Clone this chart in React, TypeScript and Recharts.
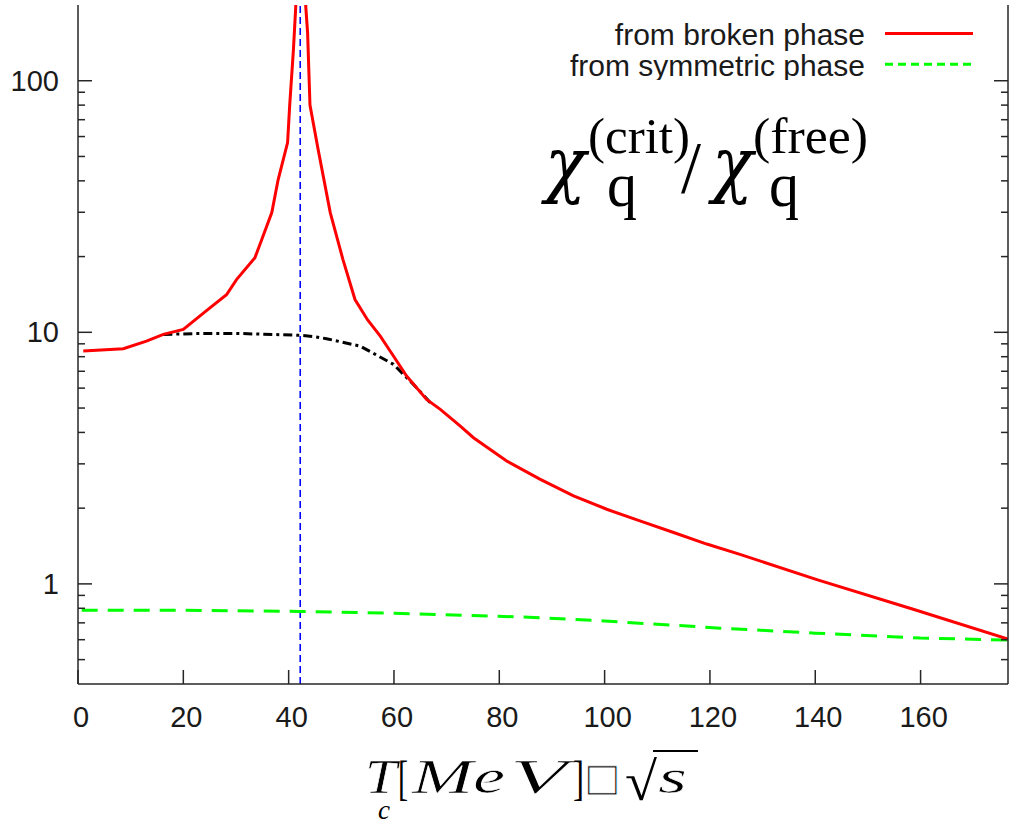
import React from 'react';
import { LineChart, Line, XAxis, YAxis, ReferenceLine, Legend } from 'recharts';

// Critical-to-free quark number susceptibility ratio vs. critical temperature
const brokenPhaseT = [
  1.0, 8.6, 13.0, 16.2, 20.0, 24.4, 28.2, 30.1, 33.6, 34.9, 36.8, 38.0, 39.8, 40.2, 40.9, 41.35,
  42.2,
  43.25, 43.6, 44.05, 45.6, 47.9, 50.3, 52.6, 55.0, 57.4, 59.9, 62.4, 66.2, 68.8, 72.6, 75.1, 81.4,
  87.7, 94.1, 100.4, 106.7, 113.1, 119.4, 125.7, 140.3, 158.6, 176.6,
];
const brokenPhaseRatio = [
  8.42, 8.61, 9.23, 9.81, 10.27, 12.2, 14.1, 16.2, 19.8, 23.4, 29.9, 40.4, 56.8, 80, 132, 197,
  5000,
  197, 155, 80, 53.3, 29.9, 19.5, 13.5, 11.2, 9.66, 8.05, 6.7, 5.41, 4.94, 4.24, 3.81, 3.08,
  2.61, 2.24, 1.98, 1.78, 1.6, 1.44, 1.31, 1.04, 0.793, 0.603,
];

const symmetricPhaseT = [0.7, 20, 42.2, 60, 86.6, 100, 122, 140, 160, 176.6];
const symmetricPhaseRatio = [0.786, 0.786, 0.777, 0.765, 0.736, 0.712, 0.667, 0.637, 0.609, 0.598];

const smoothedT = [16.2, 21.9, 30, 42.2, 45, 47.2, 53.6, 59.9, 63.7, 66.9];
const smoothedRatio = [9.81, 9.88, 9.9, 9.73, 9.6, 9.43, 8.81, 7.46, 6.21, 5.25];

const criticalT = 42.2;

const xTicks = [0, 20, 40, 60, 80, 100, 120, 140, 160];
const yTicks = [
  0.5, 0.6, 0.7, 0.8, 0.9, 1, 2, 3, 4, 5, 6, 7, 8, 9, 10, 20, 30, 40, 50, 60, 70, 80, 90, 100,
];
const yTickLabels = [1, 10, 100];

const X_DOMAIN: [number, number] = [0, 176.6];
const Y_DOMAIN: [number, number] = [0.4, 200];

const toPoints = (xs: number[], ys: number[]) => xs.map((x, i) => ({ x, y: ys[i] }));
const brokenData = toPoints(brokenPhaseT, brokenPhaseRatio);
const symmetricData = toPoints(symmetricPhaseT, symmetricPhaseRatio);
const smoothedData = toPoints(smoothedT, smoothedRatio);

const AXIS_COLOR = '#262626';
const TEXT_COLOR = '#1a1a1a';
const SANS = "'Liberation Sans', Arial, sans-serif";
const SERIF = "'Liberation Serif', 'Times New Roman', serif";
const GREEK = "'DejaVu Serif', serif";
const MAJOR = 14;
const MINOR = 7;

const legendItems = [
  { name: 'from broken phase', color: '#ff0000', dash: undefined as string | undefined },
  { name: 'from symmetric phase', color: '#00ff00', dash: '8 5' },
];

function BottomTick(props: any) {
  const { x, y, payload } = props;
  return (
    <g>
      <line x1={x} y1={y} x2={x} y2={y - MAJOR} stroke={AXIS_COLOR} strokeWidth={1.5} />
      <text x={x + 3} y={y + 43} textAnchor="middle" fontSize={29} fontFamily={SANS} fill={TEXT_COLOR}>
        {payload.value}
      </text>
    </g>
  );
}

function TopTick(props: any) {
  const { x, y } = props;
  return <line x1={x} y1={y} x2={x} y2={y + MAJOR} stroke={AXIS_COLOR} strokeWidth={1.5} />;
}

function LeftTick(props: any) {
  const { x, y, payload } = props;
  const major = yTickLabels.includes(payload.value);
  return (
    <g>
      <line x1={x} y1={y} x2={x + (major ? MAJOR : MINOR)} y2={y} stroke={AXIS_COLOR} strokeWidth={1.5} />
      {major && (
        <text x={x - 19} y={y + 10} textAnchor="end" fontSize={29} fontFamily={SANS} fill={TEXT_COLOR}>
          {payload.value}
        </text>
      )}
    </g>
  );
}

function RightTick(props: any) {
  const { x, y, payload } = props;
  const major = yTickLabels.includes(payload.value);
  return <line x1={x} y1={y} x2={x - (major ? MAJOR : MINOR)} y2={y} stroke={AXIS_COLOR} strokeWidth={1.5} />;
}

function LegendBox() {
  return (
    <svg width={450} height={80}>
      {legendItems.map((item, i) => (
        <g key={item.name}>
          <text x={325} y={45 + i * 30.5} textAnchor="end" fontSize={30} fontFamily={SANS} fill={TEXT_COLOR}>
            {item.name}
          </text>
          <line
            x1={345}
            x2={433}
            y1={33.5 + i * 30.8}
            y2={33.5 + i * 30.8}
            stroke={item.color}
            strokeWidth={3}
            strokeDasharray={item.dash}
          />
        </g>
      ))}
    </svg>
  );
}

// Stretched serif glyphs get a faint white outline so their stems stay light
const thin = { stroke: '#fff', strokeWidth: 0.6 };

function Annotations() {
  return (
    <svg
      width={1009}
      height={821}
      style={{ position: 'absolute', left: 0, top: 0, pointerEvents: 'none' }}
    >
      <g fontFamily={SERIF} fill="#000">
        <text x={545} y={189} fontSize={72} fontFamily={GREEK} fontStyle="italic" textLength={41} lengthAdjust="spacingAndGlyphs">χ</text>
        <text x={588} y={153} fontSize={51} textLength={102} lengthAdjust="spacingAndGlyphs">(crit)</text>
        <text x={607} y={206} fontSize={64} textLength={30} lengthAdjust="spacingAndGlyphs">q</text>
        <text x={681} y={193} fontSize={74} textLength={20} lengthAdjust="spacingAndGlyphs">/</text>
        <text x={712} y={189} fontSize={72} fontFamily={GREEK} fontStyle="italic" textLength={41} lengthAdjust="spacingAndGlyphs">χ</text>
        <text x={753} y={153} fontSize={51} textLength={115} lengthAdjust="spacingAndGlyphs">(free)</text>
        <text x={769} y={206} fontSize={64} textLength={30} lengthAdjust="spacingAndGlyphs">q</text>
      </g>
      <g fontFamily={SERIF} fill="#000" fontStyle="italic">
        <text x={365} y={793} fontSize={48} textLength={32} lengthAdjust="spacingAndGlyphs" {...thin}>T</text>
        <text x={378} y={819} fontSize={28} textLength={12} lengthAdjust="spacingAndGlyphs">c</text>
        <text x={398} y={794} fontSize={48} fontStyle="normal" textLength={10} lengthAdjust="spacingAndGlyphs">[</text>
        <text x={412} y={793} fontSize={48} textLength={61} lengthAdjust="spacingAndGlyphs" {...thin}>M</text>
        <text x={473} y={793} fontSize={48} textLength={32} lengthAdjust="spacingAndGlyphs" {...thin}>e</text>
        <text x={510} y={793} fontSize={48} textLength={57} lengthAdjust="spacingAndGlyphs" {...thin}>V</text>
        <text x={573} y={794} fontSize={48} fontStyle="normal" textLength={11} lengthAdjust="spacingAndGlyphs">]</text>
        <text x={584} y={790} fontSize={38} fontStyle="normal" fontFamily="'DejaVu Sans'" stroke="#fff" strokeWidth={0.8}>□</text>
        <text x={625} y={800} fontSize={54} fontStyle="normal" textLength={32} lengthAdjust="spacingAndGlyphs">√</text>
        <line x1={653} x2={698} y1={751} y2={751} stroke="#000" strokeWidth={2} />
        <text x={658} y={793} fontSize={48} textLength={29} lengthAdjust="spacingAndGlyphs" {...thin}>s</text>
      </g>
    </svg>
  );
}

export default function App() {
  return (
    <div style={{ position: 'absolute', left: 0, top: 0, width: 1009, height: 821, background: '#fff' }}>
      <LineChart width={1009} height={821} margin={{ top: 5, right: 0, bottom: 0, left: 0 }}>
        <XAxis
          xAxisId="bottom"
          dataKey="x"
          type="number"
          orientation="bottom"
          domain={X_DOMAIN}
          allowDataOverflow
          ticks={xTicks}
          height={137}
          tickSize={0}
          tickMargin={0}
          tickLine={false}
          tick={<BottomTick />}
          axisLine={{ stroke: AXIS_COLOR, strokeWidth: 1.5 }}
          interval={0}
        />
        <XAxis
          xAxisId="top"
          dataKey="x"
          type="number"
          orientation="top"
          domain={X_DOMAIN}
          allowDataOverflow
          ticks={xTicks}
          height={0}
          tickSize={0}
          tickMargin={0}
          tickLine={false}
          tick={<TopTick />}
          axisLine={{ stroke: AXIS_COLOR, strokeWidth: 1.5 }}
          interval={0}
        />
        <YAxis
          yAxisId="left"
          type="number"
          scale="log"
          domain={Y_DOMAIN}
          allowDataOverflow
          ticks={yTicks}
          width={78}
          tickSize={0}
          tickMargin={0}
          tickLine={false}
          tick={<LeftTick />}
          axisLine={{ stroke: AXIS_COLOR, strokeWidth: 1.5 }}
          interval={0}
        />
        <YAxis
          yAxisId="right"
          type="number"
          orientation="right"
          scale="log"
          domain={Y_DOMAIN}
          allowDataOverflow
          ticks={yTicks}
          width={1}
          tickSize={0}
          tickMargin={0}
          tickLine={false}
          tick={<RightTick />}
          axisLine={{ stroke: AXIS_COLOR, strokeWidth: 1.5 }}
          interval={0}
        />
        <ReferenceLine
          xAxisId="bottom"
          yAxisId="left"
          x={criticalT}
          stroke="#0000ff"
          strokeWidth={1.6}
          strokeDasharray="7 4"
        />
        <Line
          xAxisId="bottom"
          yAxisId="left"
          data={symmetricData}
          dataKey="y"
          name="from symmetric phase"
          type="linear"
          stroke="#00ff00"
          strokeWidth={3}
          strokeDasharray="16 10"
          dot={false}
          activeDot={false}
          isAnimationActive={false}
        />
        <Line
          xAxisId="bottom"
          yAxisId="left"
          data={smoothedData}
          dataKey="y"
          type="linear"
          stroke="#000"
          strokeWidth={3}
          strokeDasharray="9 4 3 4"
          dot={false}
          activeDot={false}
          legendType="none"
          isAnimationActive={false}
        />
        <Line
          xAxisId="bottom"
          yAxisId="left"
          data={brokenData}
          dataKey="y"
          name="from broken phase"
          type="linear"
          stroke="#ff0000"
          strokeWidth={3}
          dot={false}
          activeDot={false}
          isAnimationActive={false}
        />
        <Legend
          layout="vertical"
          align="center"
          verticalAlign="middle"
          content={() => <LegendBox />}
          wrapperStyle={{ position: 'absolute', left: 540, top: 0, width: 450, height: 80 }}
        />
      </LineChart>
      <Annotations />
    </div>
  );
}
